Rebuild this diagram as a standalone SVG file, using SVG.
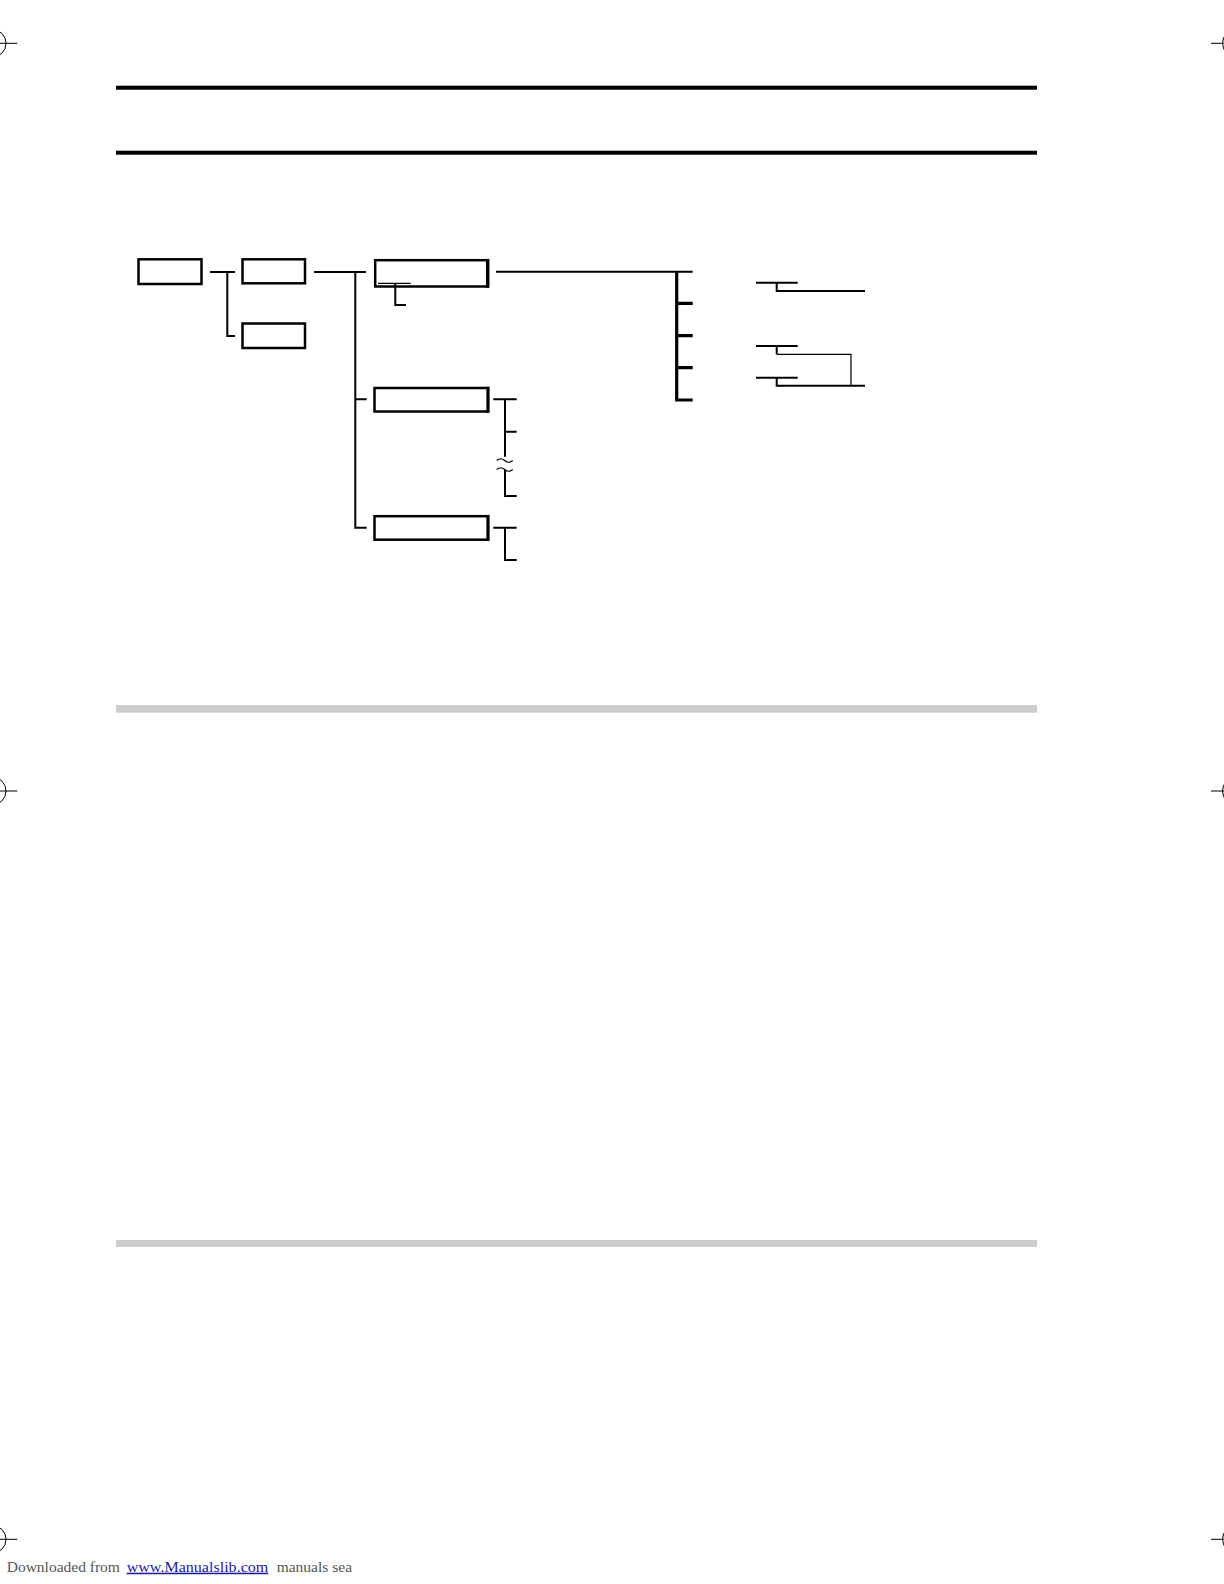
<svg xmlns="http://www.w3.org/2000/svg" width="1224" height="1584" viewBox="0 0 1224 1584">
<style>
.box{fill:none;stroke:#000;stroke-width:2.5}
.ln{fill:none;stroke:#000;stroke-width:2}
.thk{fill:none;stroke:#000;stroke-width:3.2}
.thin{fill:none;stroke:#000;stroke-width:1.2}
.reg{fill:none;stroke:#000;stroke-width:1}
.foot{font-family:"Liberation Serif",serif;font-size:15.5px;fill:#555}
</style>
<rect width="1224" height="1584" fill="#fff"/>
<g id="rules">
<rect x="116" y="85.7" width="921" height="4" fill="#000"/>
<rect x="116" y="150.7" width="921" height="4" fill="#000"/>
<rect x="116" y="705" width="921" height="7.7" fill="#cccccc"/>
<rect x="116" y="1240" width="921" height="7" fill="#cccccc"/>
</g>
<g id="regmarks">
<circle class="reg" cx="-8" cy="43.3" r="14"/><path class="reg" d="M0 43.3H17.3"/>
<circle class="reg" cx="1236.5" cy="43.3" r="14"/><path class="reg" d="M1211 43.3H1224"/>
<circle class="reg" cx="-8" cy="791" r="14"/><path class="reg" d="M0 791H17.3"/>
<circle class="reg" cx="1236.5" cy="791" r="14"/><path class="reg" d="M1211 791H1224"/>
<circle class="reg" cx="-8" cy="1539.3" r="14"/><path class="reg" d="M0 1539.3H17.3"/>
<circle class="reg" cx="1236.5" cy="1539.3" r="14"/><path class="reg" d="M1211 1539.3H1224"/>
</g>
<g id="node1"><rect class="box" x="138.5" y="259.3" width="63" height="24.7"/></g>
<g id="node2"><rect class="box" x="242.5" y="259.3" width="62.5" height="24"/></g>
<g id="node3"><rect class="box" x="242.5" y="323.5" width="62.5" height="24.5"/></g>
<g id="node4"><rect class="box" x="375.2" y="260.2" width="112.5" height="26.3"/><path d="M487.7 259 V287.7" stroke="#000" stroke-width="3.5"/></g>
<g id="node5"><rect class="box" x="374.5" y="388" width="113.5" height="23.5"/><path d="M488 386.7 V412.7" stroke="#000" stroke-width="3"/></g>
<g id="node6"><rect class="box" x="374.5" y="516.2" width="113.5" height="23.5"/><path d="M488 515 V541" stroke="#000" stroke-width="3"/></g>
<g id="connectors">
<path class="ln" d="M210 272H235M227.3 272V336H235"/>
<path class="ln" d="M314 272H366M355.3 272V527.7H366.7M355.3 399.3H366.7"/>
<path class="thin" d="M378 283.3H410.7"/>
<path class="ln" d="M395.3 283.3V305H406"/>
<path class="ln" d="M496 271.7H692.7"/>
<path class="thk" d="M676.7 271.7V400H692.7M676.7 303.3H692.7M676.7 335.7H692.7M676.7 367.7H692.7"/>
<path class="ln" d="M756 282.7H797.7M776.7 282.7V291H865"/>
<path class="ln" d="M756 346H797.7M776.7 346V354.3"/>
<path class="thin" d="M776.7 354.3H851V385.7"/>
<path class="ln" d="M756 377.7H797.7M776.7 377.7V385.7H865"/>
<path class="ln" d="M493.3 399.3H516.7M505 399.3V456.7M505 470V496H516.7M505 431.7H516.7"/>
<path class="thin" d="M496.7 460.5q4 -3.5 8 0t8 0M496.7 469.5q4 -3.5 8 0t8 0" stroke="#333"/>
<path class="ln" d="M493.3 527.7H516.7M505 527.7V560H516.7"/>
</g>
<g id="footer">
<text class="foot" x="6.7" y="1571.7">Downloaded from</text>
<text x="126.7" y="1571.7" font-family="Liberation Serif,serif" font-size="15.5" fill="#1a1aa6" text-decoration="underline" textLength="141.6" lengthAdjust="spacingAndGlyphs">www.Manualslib.com</text>
<text class="foot" x="276.7" y="1571.7">manuals sea</text>
</g>
</svg>
